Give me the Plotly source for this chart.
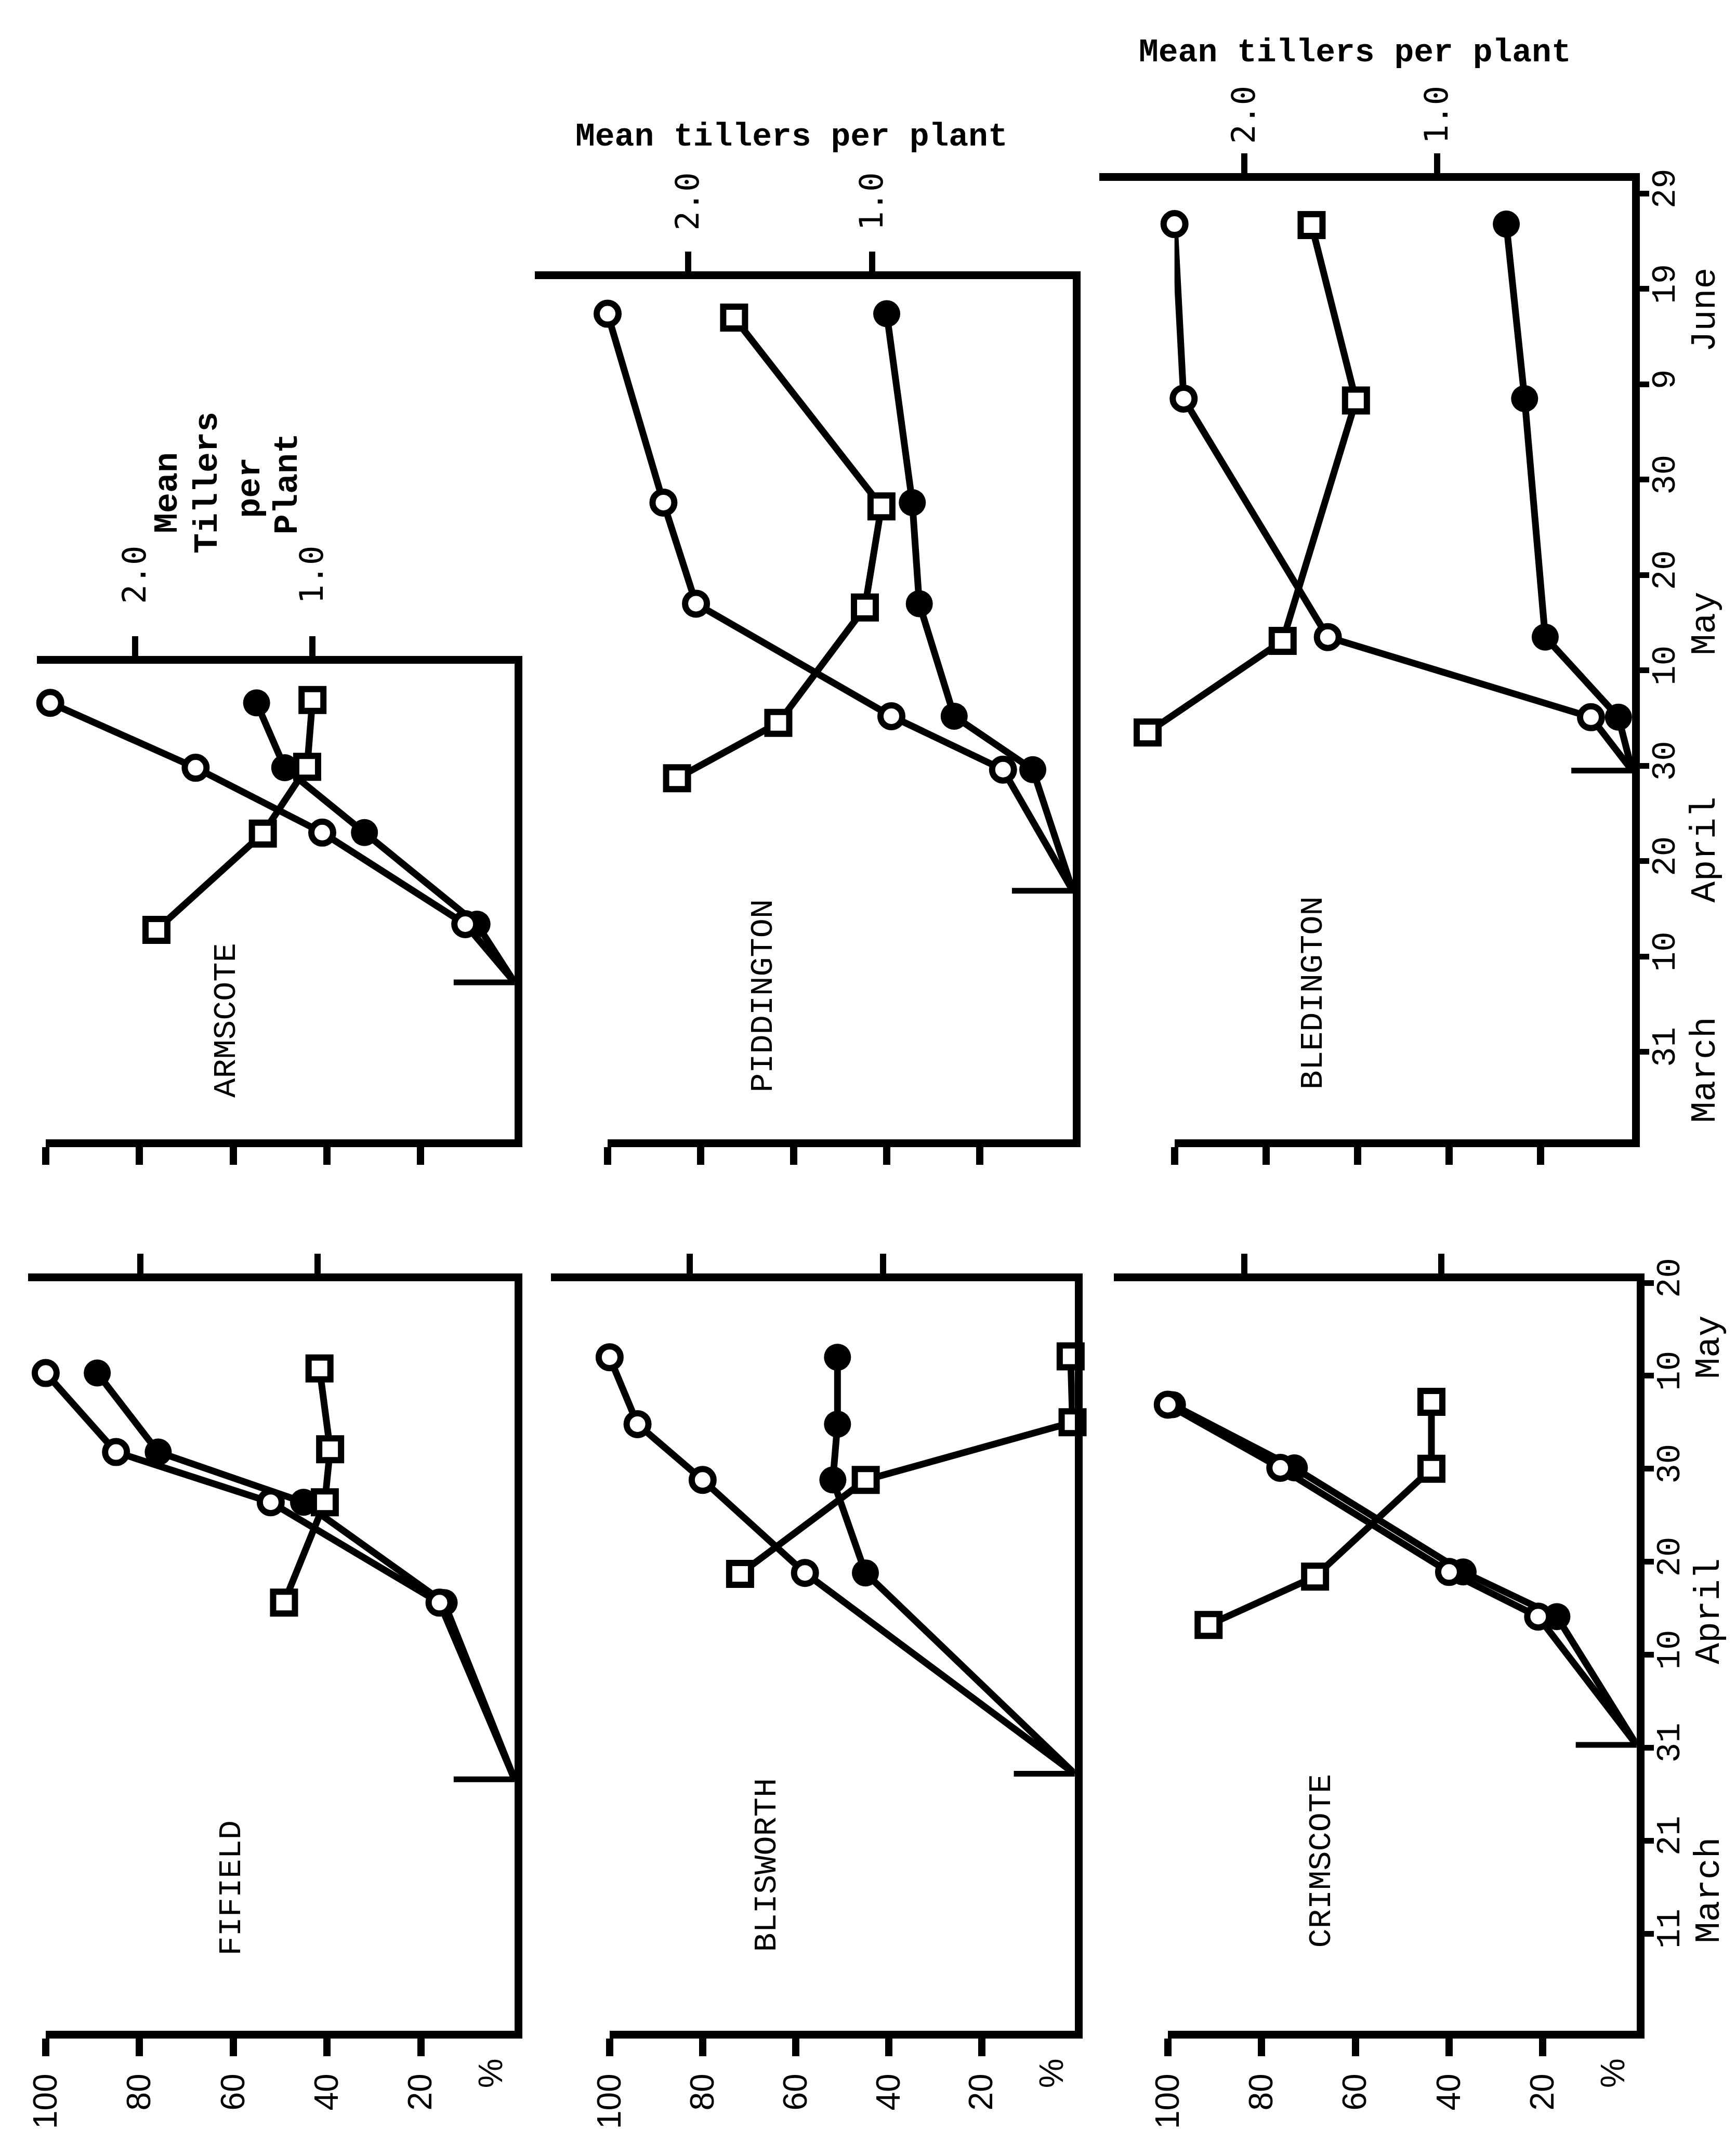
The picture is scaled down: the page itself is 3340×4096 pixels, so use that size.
import plotly.graph_objects as go

# ---------------- data (day numbers: 1 = 1 March) ----------------
ARMSCOTE_START = 38.3
ARMSCOTE_DAYS = [44.4, 54.0, 60.8, 67.6]
ARMSCOTE_OPEN = [10.5, 41, 68, 99]
ARMSCOTE_FILLED = [8, 32, 49, 55]
ARMSCOTE_SQ_DAYS = [43.8, 53.9, 60.9, 67.9]
ARMSCOTE_SQ = [1.88, 1.28, 1.03, 1.00]

PIDDINGTON_START = 47.9
PIDDINGTON_DAYS = [60.6, 66.2, 78.0, 88.6, 108.4]
PIDDINGTON_OPEN = [15, 39, 81, 88, 100]
PIDDINGTON_FILLED = [8.6, 25.5, 33, 34.5, 40]
PIDDINGTON_SQ_DAYS = [59.7, 65.5, 77.6, 88.2, 108.0]
PIDDINGTON_SQ = [2.06, 1.51, 1.04, 0.95, 1.75]

BLEDINGTON_START = 60.5
BLEDINGTON_DAYS = [66.1, 74.5, 99.5, 117.8]
BLEDINGTON_OPEN = [9, 66.5, 98, 100]
BLEDINGTON_FILLED = [3, 19, 23.5, 27.5]
BLEDINGTON_SQ_DAYS = [64.5, 74.1, 99.3, 117.7]
BLEDINGTON_SQ = [2.50, 1.80, 1.42, 1.65]

FIFIELD_START = 27.6
FIFIELD_DAYS = [46.6, 57.4, 62.8, 71.3]
FIFIELD_OPEN = [16, 52, 85, 100]
FIFIELD_FILLED = [15, 45, 76, 89]
FIFIELD_SQ_DAYS = [46.6, 57.4, 63.1, 71.8]
FIFIELD_SQ = [1.19, 0.96, 0.93, 0.99]

BLISWORTH_START = 28.2
BLISWORTH_DAYS = [49.8, 59.8, 65.8, 73.0]
BLISWORTH_OPEN = [58, 80, 94, 100]
BLISWORTH_FILLED = [45, 52, 51, 51]
BLISWORTH_SQ_DAYS = [49.7, 59.8, 66.0, 73.1]
BLISWORTH_SQ = [1.74, 1.09, 0.02, 0.03]

CRIMSCOTE_START = 31.3
CRIMSCOTE_DAYS = [45.1, 49.9, 61.1, 67.9]
CRIMSCOTE_OPEN = [21, 40, 76, 100]
CRIMSCOTE_FILLED = [17, 37, 73, 99]
CRIMSCOTE_SQ_DAYS = [44.2, 49.4, 61.0, 68.2]
CRIMSCOTE_SQ = [2.18, 1.64, 1.05, 1.05]

PCT_TICKS = [100, 80, 60, 40, 20]
PCT_LABELS = ["100", "80", "60", "40", "20"]
TILLER_TICKS = [2.0, 1.0]
TILLER_LABELS = ["2.0", "1.0"]
DAY_TICKS_LOWER = [11, 21, 31, 41, 51, 61, 71, 81]
DAY_LABELS_LOWER = ["11", "21", "31", "10", "20", "30", "10", "20"]
DAY_TICKS_UPPER = [31, 41, 51, 61, 71, 81, 91, 101, 111, 121]
DAY_LABELS_UPPER = ["31", "10", "20", "30", "10", "20", "30", "9", "19", "29"]
MONTHS_LOWER = ["March", "April", "May"]
MONTHS_UPPER = ["March", "April", "May", "June"]

# ---------------- layout (reference thumbnail coords 1278 x 1568) ----------------
W, H = 3340, 4096
RW, RH = 1278.0, 1568.0
S = W / RW


def fx(x):
    return x / RW


def fy(y):
    return 1 - y / RH


def day_at(row, y):
    if row == "upper":
        return 31 + (768.8 - y) / 7.129
    return 11 + (1427.8 - y) / 6.949


SITES = [
    dict(name="ARMSCOTE", row="upper", xl=13.0, x100=19.6, x0=368.7, t2=86.3, t1=218.3,
         yt=478.7, yb=834.0, start=ARMSCOTE_START, days=ARMSCOTE_DAYS, op=ARMSCOTE_OPEN,
         fi=ARMSCOTE_FILLED, sqd=ARMSCOTE_SQ_DAYS, sq=ARMSCOTE_SQ, lab=(154.4, 745.0),
         tstand=50, dates=False, pctlab=False, tilllab=True),
    dict(name="PIDDINGTON", row="upper", xl=383.8, x100=438.0, x0=784.3, t2=497.9, t1=635.0,
         yt=191.1, yb=834.0, start=PIDDINGTON_START, days=PIDDINGTON_DAYS, op=PIDDINGTON_OPEN,
         fi=PIDDINGTON_FILLED, sqd=PIDDINGTON_SQ_DAYS, sq=PIDDINGTON_SQ, lab=(553.9, 727.0),
         tstand=28, dates=False, pctlab=False, tilllab=True),
    dict(name="BLEDINGTON", row="upper", xl=804.0, x100=860.0, x0=1200.7, t2=911.8, t1=1055.4,
         yt=117.8, yb=834.0, start=BLEDINGTON_START, days=BLEDINGTON_DAYS, op=BLEDINGTON_OPEN,
         fi=BLEDINGTON_FILLED, sqd=BLEDINGTON_SQ_DAYS, sq=BLEDINGTON_SQ, lab=(963.2, 724.5),
         tstand=6, dates=True, pctlab=False, tilllab=True),
    dict(name="FIFIELD", row="lower", xl=6.5, x100=19.7, x0=368.7, t2=90.2, t1=222.2,
         yt=940.2, yb=1500.3, start=FIFIELD_START, days=FIFIELD_DAYS, op=FIFIELD_OPEN,
         fi=FIFIELD_FILLED, sqd=FIFIELD_SQ_DAYS, sq=FIFIELD_SQ, lab=(158.0, 1393.6),
         tstand=0, dates=False, pctlab=True, tilllab=False),
    dict(name="BLISWORTH", row="lower", xl=396.0, x100=439.5, x0=785.7, t2=499.2, t1=643.1,
         yt=940.2, yb=1500.3, start=BLISWORTH_START, days=BLISWORTH_DAYS, op=BLISWORTH_OPEN,
         fi=BLISWORTH_FILLED, sqd=BLISWORTH_SQ_DAYS, sq=BLISWORTH_SQ, lab=(556.6, 1376.5),
         tstand=0, dates=False, pctlab=True, tilllab=False),
    dict(name="CRIMSCOTE", row="lower", xl=815.0, x100=855.0, x0=1204.0, t2=911.8, t1=1058.6,
         yt=940.2, yb=1500.3, start=CRIMSCOTE_START, days=CRIMSCOTE_DAYS, op=CRIMSCOTE_OPEN,
         fi=CRIMSCOTE_FILLED, sqd=CRIMSCOTE_SQ_DAYS, sq=CRIMSCOTE_SQ, lab=(969.4, 1373.4),
         tstand=0, dates=True, pctlab=True, tilllab=False),
]

MONO = "Liberation Mono"
SANS = "Liberation Sans"
DVM = "DejaVu Sans Mono"

LW_DATA = 13
LW_AXIS = 15
OPEN_SIZE, OPEN_LW = 42, 12
FILLED_SIZE = 52
SQ_SIZE, SQ_LW = 42, 12
START_TICK = 2 * 32 * S

fig = go.Figure()
layout = dict(
    width=W, height=H, margin=dict(l=0, r=0, t=0, b=0), autosize=False,
    paper_bgcolor="white", plot_bgcolor="rgba(0,0,0,0)", showlegend=False,
)
annotations = []


def ref(prefix, n):
    return prefix if n == 1 else f"{prefix}{n}"


def key(prefix, n):
    return f"{prefix}axis" if n == 1 else f"{prefix}axis{n}"


for i, s in enumerate(SITES):
    npct, ntil, ny = 2 * i + 1, 2 * i + 2, i + 1
    xp, xt, yy = ref("x", npct), ref("x", ntil), ref("y", ny)

    u = s["t1"] - s["t2"]
    zero_t = s["t1"] + u
    t_range = [(zero_t - s["xl"]) / u, (zero_t - s["x0"]) / u]
    d_range = [day_at(s["row"], s["yb"]), day_at(s["row"], s["yt"])]

    layout[key("x", npct)] = dict(
        domain=[fx(s["x100"]), fx(s["x0"])], range=[100, 0], anchor=yy, side="bottom",
        showline=True, linewidth=LW_AXIS, linecolor="black", showgrid=False, zeroline=False,
        ticks="outside", tickvals=PCT_TICKS, ticktext=PCT_LABELS, ticklen=34, tickwidth=14,
        tickcolor="black", showticklabels=s["pctlab"], tickangle=-90, ticklabelstandoff=8,
        tickfont=dict(family=SANS, size=64, color="black"),
    )
    layout[key("x", ntil)] = dict(
        domain=[fx(s["xl"]), fx(s["x0"])], range=t_range, anchor=yy, side="top",
        showline=True, linewidth=LW_AXIS, linecolor="black", showgrid=False, zeroline=False,
        ticks="outside", tickvals=TILLER_TICKS, ticktext=TILLER_LABELS, ticklen=38, tickwidth=12,
        tickcolor="black", showticklabels=s["tilllab"], tickangle=-90,
        ticklabelstandoff=s["tstand"], tickfont=dict(family=DVM, size=62, color="black"),
    )
    yd = dict(
        domain=[fy(s["yb"]), fy(s["yt"])], range=d_range, anchor=xt, side="right",
        showline=True, linewidth=LW_AXIS, linecolor="black", showgrid=False, zeroline=False,
        tickcolor="black",
    )
    if s["dates"]:
        if s["row"] == "upper":
            tv, tt = DAY_TICKS_UPPER, DAY_LABELS_UPPER
        else:
            tv, tt = DAY_TICKS_LOWER, DAY_LABELS_LOWER
        yd.update(ticks="outside", tickvals=tv, ticktext=tt, ticklen=18, tickwidth=11,
                  showticklabels=True, tickangle=-90, ticklabelstandoff=-28,
                  tickfont=dict(family=MONO, size=64, color="black"))
    else:
        yd.update(ticks="", showticklabels=False)
    layout[key("y", ny)] = yd

    line = dict(color="black", width=LW_DATA)
    # lines
    fig.add_trace(go.Scatter(x=[0] + s["op"], y=[s["start"]] + s["days"], xaxis=xp, yaxis=yy,
                             mode="lines", line=line, hoverinfo="skip"))
    fig.add_trace(go.Scatter(x=[0] + s["fi"], y=[s["start"]] + s["days"], xaxis=xp, yaxis=yy,
                             mode="lines", line=line, hoverinfo="skip"))
    # start tick (half clipped by the plot area)
    fig.add_trace(go.Scatter(x=[0], y=[s["start"]], xaxis=xp, yaxis=yy, mode="markers",
                             cliponaxis=True,
                             marker=dict(symbol="line-ew", size=START_TICK,
                                         line=dict(color="black", width=11)),
                             hoverinfo="skip"))
    # markers
    fig.add_trace(go.Scatter(x=s["fi"], y=s["days"], xaxis=xp, yaxis=yy, mode="markers",
                             cliponaxis=False,
                             marker=dict(symbol="circle", size=FILLED_SIZE, color="black",
                                         line=dict(width=0))))
    fig.add_trace(go.Scatter(x=s["op"], y=s["days"], xaxis=xp, yaxis=yy, mode="markers",
                             cliponaxis=False,
                             marker=dict(symbol="circle", size=OPEN_SIZE, color="white",
                                         line=dict(color="black", width=OPEN_LW))))
    fig.add_trace(go.Scatter(x=s["sq"], y=s["sqd"], xaxis=xt, yaxis=yy, mode="lines+markers",
                             cliponaxis=False, line=line,
                             marker=dict(symbol="square", size=SQ_SIZE, color="white",
                                         line=dict(color="black", width=SQ_LW))))

    annotations.append(dict(text=s["name"], x=fx(s["lab"][0]), y=fy(s["lab"][1]),
                            xref="paper", yref="paper", showarrow=False, textangle=-90,
                            xanchor="center", yanchor="middle",
                            font=dict(family=MONO, size=62, color="black")))
    if s["pctlab"]:
        annotations.append(dict(text="%", x=5, y=fy(1532), xref=xp, yref="paper",
                                showarrow=False, textangle=-90, xanchor="center",
                                yanchor="middle", font=dict(family=SANS, size=64, color="black")))

# month labels
for m, d in zip(MONTHS_LOWER, [15.7, 45.7, 74.1]):
    annotations.append(dict(text=m, x=fx(1258), y=d, xref="paper", yref="y6", showarrow=False,
                            textangle=-90, xanchor="center", yanchor="middle",
                            font=dict(family=MONO, size=68, color="black")))
for m, d in zip(MONTHS_UPPER, [29.1, 52.2, 75.9, 108.8]):
    annotations.append(dict(text=m, x=fx(1255), y=d, xref="paper", yref="y3", showarrow=False,
                            textangle=-90, xanchor="center", yanchor="middle",
                            font=dict(family=MONO, size=68, color="black")))

# axis titles
for (cx, cy) in [(575.0, 85.0), (994.5, 22.0)]:
    annotations.append(dict(text="Mean tillers per plant", x=fx(cx), y=fy(cy), xref="paper",
                            yref="paper", showarrow=False, xanchor="center", yanchor="middle",
                            font=dict(family=MONO, size=63, color="black", weight="bold")))
for txt, cx, cy in [("Mean", 110.9, 351.0), ("Tillers", 140.5, 343.4), ("per", 172.1, 346.9),
                    ("Plant", 200.3, 344.0)]:
    annotations.append(dict(text=txt, x=fx(cx), y=fy(cy), xref="paper", yref="paper",
                            showarrow=False, textangle=-90, xanchor="center", yanchor="middle",
                            font=dict(family=MONO, size=65, color="black", weight="bold")))

layout["annotations"] = annotations
fig.update_layout(**layout)
fig.write_html("out.html", config={"displayModeBar": False},
               post_script="document.body.style.margin='0';")
